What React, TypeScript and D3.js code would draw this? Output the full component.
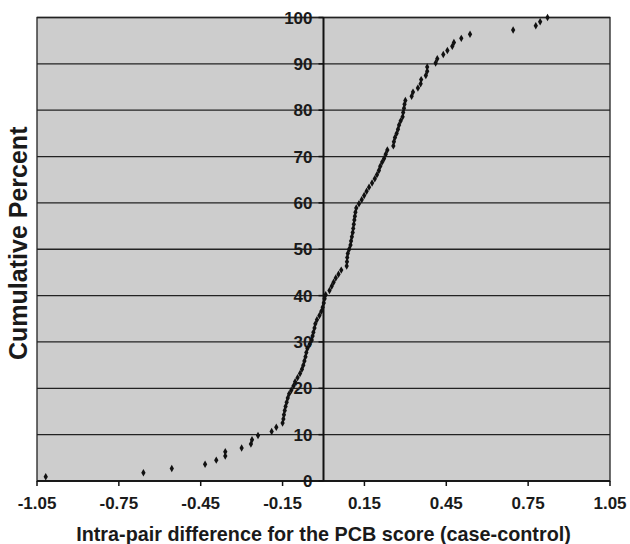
import React from "react";
import * as d3 from "d3";

const diffValues: number[] = [
  -1.018, -0.66, -0.556, -0.434, -0.393, -0.36, -0.36, -0.3, -0.266, -0.262,
  -0.24, -0.19, -0.173, -0.15, -0.147, -0.145, -0.142, -0.139, -0.135, -0.131,
  -0.126, -0.118, -0.11, -0.104, -0.095, -0.086, -0.079, -0.074, -0.07, -0.066,
  -0.063, -0.059, -0.051, -0.043, -0.04, -0.037, -0.033, -0.03, -0.024, -0.015,
  -0.008, -0.003, 0.001, 0.004, 0.008, 0.022, 0.03, 0.037, 0.045, 0.055,
  0.065, 0.085, 0.086, 0.087, 0.089, 0.094, 0.099, 0.101, 0.104, 0.107,
  0.109, 0.111, 0.113, 0.115, 0.117, 0.12, 0.13, 0.14, 0.149, 0.158,
  0.167, 0.178, 0.188, 0.196, 0.203, 0.208, 0.215, 0.222, 0.228, 0.234,
  0.256, 0.258, 0.262, 0.268, 0.273, 0.277, 0.283, 0.29, 0.292, 0.295,
  0.297, 0.3, 0.323, 0.328, 0.346, 0.356, 0.358, 0.375, 0.38, 0.38,
  0.411, 0.417, 0.439, 0.454, 0.472, 0.478, 0.505, 0.537, 0.695, 0.778,
  0.794, 0.821,
];

const cumPercent: number[] = [
  0.9, 1.8, 2.7, 3.6, 4.5, 5.4, 6.3, 7.1, 8.0, 8.9,
  9.8, 10.7, 11.6, 12.5, 13.4, 14.3, 15.2, 16.1, 17.0, 17.9,
  18.8, 19.6, 20.5, 21.4, 22.3, 23.2, 24.1, 25.0, 25.9, 26.8,
  27.7, 28.6, 29.5, 30.4, 31.3, 32.1, 33.0, 33.9, 34.8, 35.7,
  36.6, 37.5, 38.4, 39.3, 40.2, 41.1, 42.0, 42.9, 43.8, 44.6,
  45.5, 46.4, 47.3, 48.2, 49.1, 50.0, 50.9, 51.8, 52.7, 53.6,
  54.5, 55.4, 56.3, 57.1, 58.0, 58.9, 59.8, 60.7, 61.6, 62.5,
  63.4, 64.3, 65.2, 66.1, 67.0, 67.9, 68.8, 69.6, 70.5, 71.4,
  72.3, 73.2, 74.1, 75.0, 75.9, 76.8, 77.7, 78.6, 79.5, 80.4,
  81.3, 82.1, 83.0, 83.9, 84.8, 85.7, 86.6, 87.5, 88.4, 89.3,
  90.2, 91.1, 92.0, 92.9, 93.8, 94.6, 95.5, 96.4, 97.3, 98.2,
  99.1, 100.0,
];

const xTicks: number[] = [-1.05, -0.75, -0.45, -0.15, 0.15, 0.45, 0.75, 1.05];
const yTicks: number[] = [0, 10, 20, 30, 40, 50, 60, 70, 80, 90, 100];

const xTitle = "Intra-pair difference for the PCB score (case-control)";
const yTitle = "Cumulative Percent";

const W = 630;
const H = 544;
const M = { left: 37, right: 20, top: 17.5, bottom: 63 };

export default function App() {
  const x = d3.scaleLinear().domain([-1.05, 1.05]).range([M.left, W - M.right]);
  const y = d3.scaleLinear().domain([0, 100]).range([H - M.bottom, M.top]);
  const x0 = x(0);
  const yb = y(0);
  const font = "'Liberation Sans', Arial, Helvetica, sans-serif";
  const diamond = d3.symbol().type(d3.symbolDiamond).size(16)() as string;

  return (
    <svg
      width={W}
      height={H}
      style={{ position: "absolute", left: 0, top: 0, background: "#fff" }}
      fontFamily={font}
    >
      <rect
        x={x(-1.05)}
        y={y(100)}
        width={x(1.05) - x(-1.05)}
        height={y(0) - y(100)}
        fill="#cdcdcd"
      />
      {yTicks.map((t) => (
        <line
          key={"g" + t}
          x1={x(-1.05)}
          x2={x(1.05)}
          y1={y(t)}
          y2={y(t)}
          stroke="#222"
          strokeWidth={1.3}
        />
      ))}
      <rect
        x={x(-1.05)}
        y={y(100)}
        width={x(1.05) - x(-1.05)}
        height={y(0) - y(100)}
        fill="none"
        stroke="#222"
        strokeWidth={1.3}
      />
      {/* y axis at x=0 */}
      <line x1={x0} x2={x0} y1={y(100)} y2={yb} stroke="#111" strokeWidth={2} />
      {yTicks.map((t) => (
        <g key={"yt" + t}>
          <line x1={x0 - 5} x2={x0} y1={y(t)} y2={y(t)} stroke="#111" strokeWidth={1.5} />
          <text
            x={x0 - 11}
            y={y(t)}
            dy="0.36em"
            textAnchor="end"
            fontSize={17}
            fontWeight="bold"
            fill="#1a1a1a"
          >
            {t}
          </text>
        </g>
      ))}
      {/* x axis ticks */}
      <line x1={x(-1.05)} x2={x(1.05)} y1={yb} y2={yb} stroke="#111" strokeWidth={1.5} />
      {xTicks.map((t) => (
        <g key={"xt" + t}>
          <line x1={x(t)} x2={x(t)} y1={yb} y2={yb + 5} stroke="#111" strokeWidth={1.5} />
          <text
            x={x(t)}
            y={yb + 28}
            textAnchor="middle"
            fontSize={17}
            fontWeight="bold"
            fill="#1a1a1a"
          >
            {t.toFixed(2)}
          </text>
        </g>
      ))}
      {diffValues.map((v, i) => (
        <path
          key={"p" + i}
          d={diamond}
          transform={`translate(${x(v)},${y(cumPercent[i])})`}
          fill="#111"
        />
      ))}
      <text
        x={(x(-1.05) + x(1.05)) / 2}
        y={541}
        textAnchor="middle"
        fontSize={19.8}
        fontWeight="bold"
        fill="#1a1a1a"
      >
        {xTitle}
      </text>
      <text
        transform={`translate(27,${(y(0) + y(100)) / 2 - 6}) rotate(-90)`}
        textAnchor="middle"
        fontSize={25}
        fontWeight="bold"
        fill="#1a1a1a"
      >
        {yTitle}
      </text>
    </svg>
  );
}
